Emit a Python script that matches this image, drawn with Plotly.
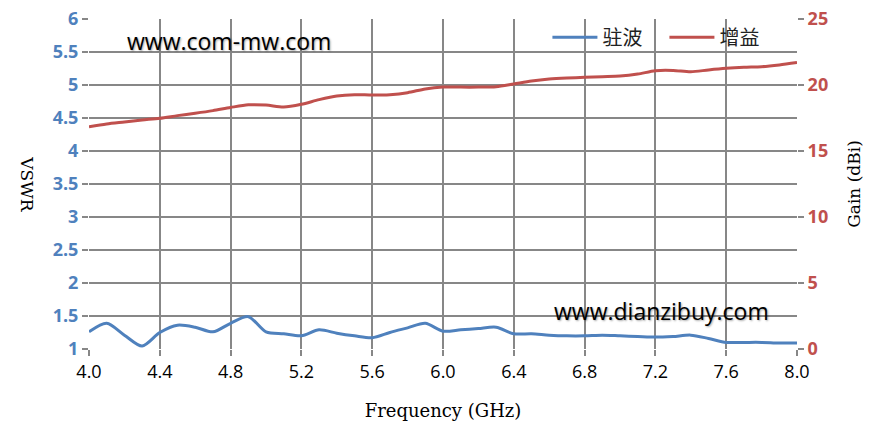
import plotly.graph_objects as go

freq = [4.0, 4.1, 4.2, 4.3, 4.4, 4.5, 4.6, 4.7, 4.8, 4.9,
        5.0, 5.1, 5.2, 5.3, 5.4, 5.5, 5.6, 5.7, 5.8, 5.9,
        6.0, 6.1, 6.2, 6.3, 6.4, 6.5, 6.6, 6.7, 6.8, 6.9,
        7.0, 7.1, 7.2, 7.3, 7.4, 7.5, 7.6, 7.7, 7.8, 7.9, 8.0]

vswr = [1.26, 1.39, 1.21, 1.045, 1.25, 1.36, 1.33, 1.26, 1.39, 1.49,
        1.26, 1.23, 1.20, 1.29, 1.24, 1.20, 1.17, 1.25, 1.32, 1.39,
        1.27, 1.29, 1.31, 1.33, 1.23, 1.23, 1.21, 1.20, 1.20, 1.21,
        1.20, 1.19, 1.18, 1.19, 1.21, 1.16, 1.10, 1.10, 1.10, 1.09, 1.09]

gain = [16.84, 17.05, 17.2, 17.35, 17.48, 17.68, 17.86, 18.06, 18.3, 18.5,
        18.48, 18.33, 18.54, 18.89, 19.17, 19.27, 19.24, 19.27, 19.42, 19.7,
        19.84, 19.84, 19.84, 19.87, 20.08, 20.3, 20.45, 20.53, 20.58, 20.63,
        20.68, 20.83, 21.08, 21.1, 21.0, 21.14, 21.26, 21.34, 21.39, 21.52, 21.7]

BLUE = "#4F81BD"
RED = "#C0504D"
GRID = "#878787"

fig = go.Figure()
fig.add_trace(go.Scatter(x=freq, y=vswr, name="驻波", mode="lines",
                         line=dict(color=BLUE, width=3, shape="spline", smoothing=0.8)))
fig.add_trace(go.Scatter(x=freq, y=gain, name="增益", mode="lines", yaxis="y2",
                         line=dict(color=RED, width=3, shape="spline", smoothing=0.8)))

fig.update_layout(
    width=876, height=432,
    margin=dict(l=89, r=79, t=19, b=83, autoexpand=False),
    paper_bgcolor="white", plot_bgcolor="white",
    showlegend=True,
    legend=dict(orientation="h", x=0.978, y=0.945, xanchor="right", yanchor="middle",
                bgcolor="rgba(0,0,0,0)",
                font=dict(family="Noto Sans CJK SC", size=20, color="#222"),
                itemwidth=45, entrywidth=57, entrywidthmode="pixels", tracegroupgap=0),
    xaxis=dict(range=[4.0, 8.0], dtick=0.4, tick0=4.0, tickformat=".1f",
               showgrid=True, gridcolor=GRID, gridwidth=2, automargin=False,
               ticks="outside", ticklen=6, tickcolor=GRID, tickwidth=2,
               showline=False, zeroline=False, ticklabeloverflow="allow",
               tickfont=dict(family="Open Sans", size=18, color="black"),
               title=dict(text="Frequency (GHz)", standoff=22,
                          font=dict(family="DejaVu Serif", size=18, color="black"))),
    yaxis=dict(range=[1, 6], dtick=0.5, showgrid=True, gridcolor=GRID, gridwidth=2,
               ticks="outside", ticklen=6, tickcolor=GRID, tickwidth=2, automargin=False,
               zeroline=False, showline=False, ticklabeloverflow="allow",
               tickfont=dict(family="Open Sans", size=18, color=BLUE, weight="bold")),
    yaxis2=dict(range=[0, 25], dtick=5, overlaying="y", side="right",
                showgrid=False, zeroline=False, showline=False, automargin=False,
                ticks="outside", ticklen=6, tickcolor=GRID, tickwidth=2,
                ticklabeloverflow="allow",
                tickfont=dict(family="Open Sans", size=18, color=RED, weight="bold"),
                title=dict(text="Gain (dBi)", standoff=20,
                           font=dict(family="DejaVu Serif", size=17, color="black"))),
)

fig.add_annotation(text="VSWR", textangle=90, xref="paper", yref="paper",
                   x=-0.088, y=0.5, xanchor="center", yanchor="middle", showarrow=False,
                   font=dict(family="DejaVu Serif", size=17, color="black"))
fig.add_annotation(text="www.com-mw.com", xref="paper", yref="paper",
                   x=0.051, y=0.933, xanchor="left", yanchor="middle", showarrow=False,
                   font=dict(family="Open Sans", size=23, color="black",
                             shadow="1px 1px 2px rgba(0,0,0,0.35)"))
fig.add_annotation(text="www.dianzibuy.com", xref="paper", yref="paper",
                   x=0.654, y=0.115, xanchor="left", yanchor="middle", showarrow=False,
                   font=dict(family="Open Sans", size=23, color="black",
                             shadow="1px 1px 2px rgba(0,0,0,0.35)"))

# drop the default 8px page margin so the figure sits at the window corner
fig.write_html("out.html", config={"displayModeBar": False},
               post_script="document.body.style.margin='0';")
